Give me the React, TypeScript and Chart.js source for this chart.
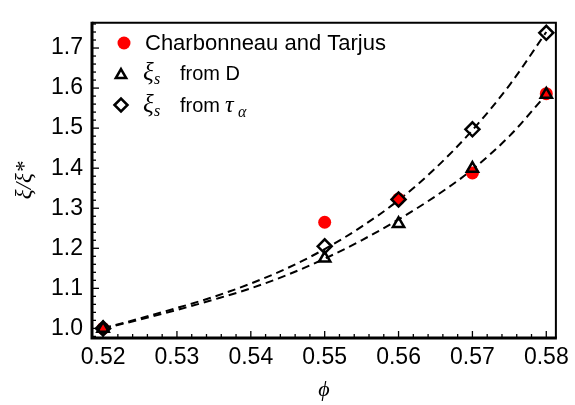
import React, { useEffect, useRef } from 'react';
import { Chart, registerables } from 'chart.js';

Chart.register(...registerables);

// ---- data ----
const phi = [0.52, 0.55, 0.56, 0.57, 0.58];
const charbonneauTarjus = [1.0, 1.265, 1.323, 1.388, 1.586];
const xiFromD = [1.0, 1.175, 1.261, 1.399, 1.584];
const xiFromTau = [1.0, 1.205, 1.322, 1.497, 1.738];

const fitPhi = [0.52, 0.525, 0.53, 0.535, 0.54, 0.545, 0.55, 0.555, 0.56, 0.565, 0.57, 0.575, 0.58];
const fitFromD = [1.0, 1.022, 1.046, 1.072, 1.1, 1.134, 1.174, 1.22, 1.272, 1.33, 1.397, 1.48, 1.584];
const fitFromTau = [1.0, 1.025, 1.051, 1.079, 1.112, 1.151, 1.198, 1.254, 1.32, 1.4, 1.495, 1.607, 1.74];

const xTicks = [0.52, 0.53, 0.54, 0.55, 0.56, 0.57, 0.58];
const yTicks = [1.0, 1.1, 1.2, 1.3, 1.4, 1.5, 1.6, 1.7];

const X_MIN = 0.5185;
const X_MAX = 0.5813;
const Y_MIN = 0.976;
const Y_MAX = 1.763;

const RED = 'rgb(255,0,0)';
const SANS = '"Liberation Sans", Arial, sans-serif';
const SERIF = '"Liberation Serif", "DejaVu Serif", serif';

const pts = (xs: number[], ys: number[]) => xs.map((x, i) => ({ x, y: ys[i] }));

function drawTriangle(ctx: CanvasRenderingContext2D, x: number, y: number, r: number) {
  ctx.beginPath();
  for (let i = 0; i < 3; i++) {
    const a = (i * 2 * Math.PI) / 3;
    const px = x + Math.sin(a) * r;
    const py = y - Math.cos(a) * r;
    if (i === 0) ctx.moveTo(px, py);
    else ctx.lineTo(px, py);
  }
  ctx.closePath();
  ctx.stroke();
}

function drawDiamond(ctx: CanvasRenderingContext2D, x: number, y: number, r: number) {
  ctx.beginPath();
  ctx.moveTo(x - r, y);
  ctx.lineTo(x, y - r);
  ctx.lineTo(x + r, y);
  ctx.lineTo(x, y + r);
  ctx.closePath();
  ctx.stroke();
}

const framePlugin = {
  id: 'frameTicks',
  afterDatasetsDraw(chart: any) {
    const { ctx, chartArea: a, scales } = chart;
    const xs = scales.x;
    const ys = scales.y;
    ctx.save();
    ctx.strokeStyle = '#000';
    ctx.lineWidth = 1.3;
    // x ticks (inward from bottom)
    for (let k = Math.ceil(xs.min * 500); k <= Math.floor(xs.max * 500); k++) {
      const px = xs.getPixelForValue(k / 500);
      const len = k % 5 === 0 ? 7 : 4;
      ctx.beginPath();
      ctx.moveTo(px, a.bottom);
      ctx.lineTo(px, a.bottom - len);
      ctx.stroke();
    }
    // y ticks (inward from left)
    for (let k = Math.ceil(ys.min * 50); k <= Math.floor(ys.max * 50); k++) {
      const py = ys.getPixelForValue(k / 50);
      const len = k % 5 === 0 ? 7 : 4;
      ctx.beginPath();
      ctx.moveTo(a.left, py);
      ctx.lineTo(a.left + len, py);
      ctx.stroke();
    }
    // frame
    ctx.lineWidth = 2;
    ctx.beginPath();
    ctx.moveTo(a.left, a.top);
    ctx.lineTo(a.right, a.top);
    ctx.lineTo(a.right, a.bottom);
    ctx.stroke();
    ctx.lineWidth = 3;
    ctx.beginPath();
    ctx.moveTo(a.left, a.top - 1);
    ctx.lineTo(a.left, a.bottom);
    ctx.lineTo(a.right + 1, a.bottom);
    ctx.stroke();
    ctx.restore();
  },
  afterDraw(chart: any) {
    const { ctx } = chart;
    ctx.save();
    // legend markers
    ctx.fillStyle = RED;
    ctx.beginPath();
    ctx.arc(124, 43, 6.5, 0, Math.PI * 2);
    ctx.fill();
    ctx.strokeStyle = '#000';
    ctx.lineWidth = 2.5;
    ctx.lineJoin = 'miter';
    drawTriangle(ctx, 121, 75, 6);
    drawDiamond(ctx, 121, 105, 6.5);
    // legend texts
    ctx.fillStyle = '#000';
    ctx.textBaseline = 'middle';
    ctx.textAlign = 'left';
    ctx.font = `22px ${SANS}`;
    ctx.fillText('Charbonneau and Tarjus', 145, 44);
    // row 2
    ctx.font = `italic 25px ${SERIF}`;
    ctx.fillText('ξ', 143, 73);
    ctx.font = `italic 16px ${SERIF}`;
    ctx.fillText('s', 154, 80);
    ctx.font = `20px ${SANS}`;
    ctx.fillText('from D', 180, 74);
    // row 3
    ctx.font = `italic 25px ${SERIF}`;
    ctx.fillText('ξ', 143, 105);
    ctx.font = `italic 16px ${SERIF}`;
    ctx.fillText('s', 154, 112);
    ctx.font = `20px ${SANS}`;
    ctx.fillText('from', 180, 106);
    ctx.font = `italic 24px ${SERIF}`;
    ctx.fillText('τ', 225, 106);
    ctx.font = `italic 16px ${SERIF}`;
    ctx.fillText('α', 238, 113);
    ctx.restore();
  },
};

export default function App() {
  const ref = useRef<HTMLCanvasElement | null>(null);

  useEffect(() => {
    if (!ref.current) return;
    const chart = new Chart(ref.current, {
      type: 'scatter',
      data: {
        datasets: [
          {
            label: 'fit from D',
            data: pts(fitPhi, fitFromD),
            showLine: true,
            borderColor: '#000',
            borderWidth: 2,
            borderDash: [8, 5],
            pointRadius: 0,
            cubicInterpolationMode: 'monotone',
            order: 5,
          } as any,
          {
            label: 'fit from tau',
            data: pts(fitPhi, fitFromTau),
            showLine: true,
            borderColor: '#000',
            borderWidth: 2,
            borderDash: [8, 5],
            pointRadius: 0,
            cubicInterpolationMode: 'monotone',
            order: 4,
          } as any,
          {
            label: 'Charbonneau and Tarjus',
            data: pts(phi, charbonneauTarjus),
            pointStyle: 'circle',
            pointRadius: 6.5,
            backgroundColor: RED,
            borderColor: RED,
            borderWidth: 0,
            clip: false,
            order: 3,
          } as any,
          {
            label: 'ξs from D',
            data: pts(phi, xiFromD),
            pointStyle: 'triangle',
            pointRadius: 6.5,
            backgroundColor: 'rgba(0,0,0,0)',
            borderColor: '#000',
            borderWidth: 2.5,
            clip: false,
            order: 2,
          } as any,
          {
            label: 'ξs from τα',
            data: pts(phi, xiFromTau),
            pointStyle: 'rectRot',
            pointRadius: 7,
            backgroundColor: 'rgba(0,0,0,0)',
            borderColor: '#000',
            borderWidth: 2.5,
            clip: false,
            order: 1,
          } as any,
        ],
      },
      options: {
        responsive: false,
        animation: false,
        devicePixelRatio: 1,
        layout: { padding: { top: 13, right: 16, left: 0, bottom: 0 } },
        plugins: {
          legend: { display: false },
          tooltip: { enabled: false },
        },
        scales: {
          x: {
            type: 'linear',
            min: X_MIN,
            max: X_MAX,
            grid: { display: false, drawTicks: false },
            border: { display: false },
            afterBuildTicks: (scale: any) => {
              scale.ticks = xTicks.map((v) => ({ value: v }));
            },
            afterFit: (scale: any) => {
              scale.height = 67;
            },
            ticks: {
              color: '#000',
              padding: 6,
              maxRotation: 0,
              autoSkip: false,
              font: { family: SANS, size: 23 },
              callback: (v: any) => Number(v).toFixed(2),
            },
            title: {
              display: true,
              text: 'ϕ',
              color: '#000',
              font: { family: SERIF, size: 22, style: 'italic' },
              padding: { top: 0, bottom: 2 },
            },
          },
          y: {
            type: 'linear',
            min: Y_MIN,
            max: Y_MAX,
            grid: { display: false, drawTicks: false },
            border: { display: false },
            afterBuildTicks: (scale: any) => {
              scale.ticks = yTicks.map((v) => ({ value: v }));
            },
            afterFit: (scale: any) => {
              scale.width = 92;
            },
            ticks: {
              color: '#000',
              padding: 9,
              autoSkip: false,
              font: { family: SANS, size: 23 },
              callback: (v: any) => Number(v).toFixed(1),
            },
            title: {
              display: true,
              text: 'ξ/ξ*',
              color: '#000',
              font: { family: SERIF, size: 23, style: 'italic' },
              padding: { top: 11, bottom: 0 },
            },
          },
        },
      } as any,
      plugins: [framePlugin],
    });
    return () => chart.destroy();
  }, []);

  return (
    <div style={{ position: 'absolute', left: 0, top: 0, width: 575, height: 405, background: '#fff' }}>
      <canvas ref={ref} width={575} height={405} style={{ display: 'block' }} />
    </div>
  );
}
